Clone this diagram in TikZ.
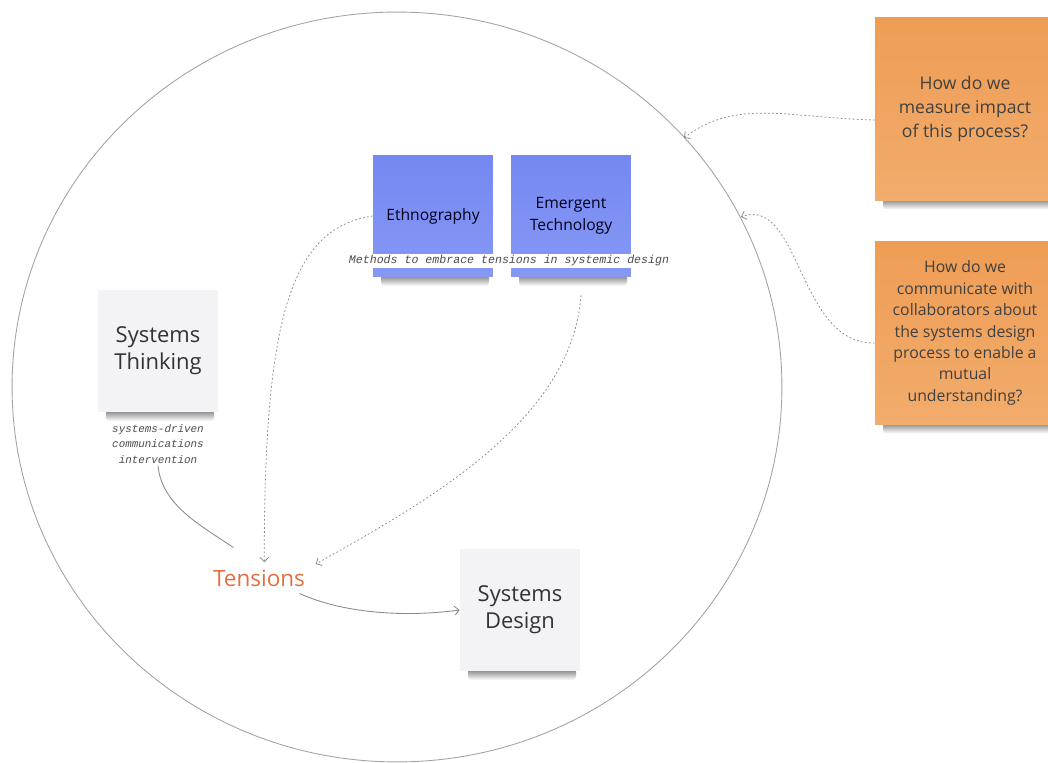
\documentclass[tikz,border=0pt]{standalone}
\usepackage{fontspec}
\setmainfont{Open Sans}
\newfontfamily\codefont{Liberation Mono}
\usetikzlibrary{arrows.meta}
\definecolor{notegray}{HTML}{F3F3F6}
\definecolor{blueTop}{HTML}{7588F2}
\definecolor{blueBot}{HTML}{8698F4}
\definecolor{orangeTop}{HTML}{EF9D55}
\definecolor{orangeBot}{HTML}{F2AC6C}
\definecolor{tensred}{HTML}{E0703F}
\definecolor{linegray}{HTML}{8C8C8C}
\tikzset{
	note/.style={minimum width=2.4cm, minimum height=2.44cm, align=center, inner sep=2pt, text=black!80},
	graynote/.style={note, fill=notegray, font=\fontsize{12.5}{15.5}\selectfont},
	bluenote/.style={note, top color=blueTop, bottom color=blueBot, text=black!75!blue!40!black, font=\fontsize{8.9}{12.3}\selectfont},
	orangenote/.style={note, minimum width=3.6cm, minimum height=3.66cm, top color=orangeTop, bottom color=orangeBot, text=black!75},
	code/.style={font=\codefont\itshape, text=black!70, align=center, inner sep=1pt},
	shade/.style={top color=black!55, bottom color=white, draw=none, rounded corners=2pt},
	link/.style={draw=linegray, line width=0.5pt, -{Straight Barb[length=2.5pt,width=5pt]}},
	dotlink/.style={link, line width=0.45pt, dash pattern=on 1pt off 1.3pt},
}

\begin{document}
\begin{tikzpicture}[x=0.02cm, y=-0.02cm]
	\useasboundingbox (0,0) rectangle (1048,763);
	\draw [linegray!80, line width=0.5pt] (397,387) ellipse [x radius=7.7cm, y radius=7.5cm];
	%
	% soft shadows go first, the notes sit on top of them
	\foreach \cx/\cy/\w/\h in {158/351/120/122, 520/610/120/122, 433/216/120/122, 571/216/120/122, 965/109/180/183, 965/333/180/183}
		\shade [shade] (\cx-\w/2+8, \cy+\h/2-3) rectangle (\cx+\w/2-4, \cy+\h/2+9);
	%
	\node [graynote] (st) at (158,351) {Systems\\Thinking};
	\node [graynote] (sd) at (520,610) {Systems\\Design};
	\node [bluenote] (eth) at (433,216) {Ethnography};
	\node [bluenote] (emt) at (571,216) {Emergent\\Technology};
	\node [orangenote, font=\fontsize{10}{13.9}\selectfont] (q1) at (965,109) {How do we\\measure impact\\of this process?};
	\node [orangenote, font=\fontsize{9}{12.2}\selectfont] (q2) at (965,333) {How do we\\communicate with\\collaborators about\\the systems design\\process to enable a\\mutual\\understanding?};
	%
	\node [code, fill=white, font=\codefont\itshape\fontsize{6.6}{8}\selectfont] (methods) at (509,261) {Methods to embrace tensions in systemic design};
	\node [code, font=\codefont\itshape\fontsize{6.2}{9}\selectfont] (cap) at (158,444) {systems-driven\\communications\\intervention};
	\node [text=tensred, font=\fontsize{12.8}{15}\selectfont, inner sep=1pt] (tens) at (259,578) {Tensions};
	%
	\coordinate (e1) at (684,138);
	\coordinate (e2) at (741,217);
	%
	\draw [dotlink] (eth.west) .. controls (290,228) and (264,320) .. ([xshift=3pt,yshift=3pt]tens.north);
	\draw [dotlink] ([xshift=0.2cm,yshift=-0.36cm]emt.south) .. controls (572,420) and (430,500) .. ([xshift=5pt,yshift=2pt]tens.north east);
	\draw [draw=linegray, line width=0.5pt] (cap.south) .. controls (162,505) and (200,525) .. ([xshift=0.45cm,yshift=0.4cm]tens.north west);
	\draw [link] ([xshift=-0.15cm,yshift=-0.1cm]tens.south east) .. controls (340,612) and (400,618) .. (sd.west);
	\draw [dotlink] ([yshift=-0.22cm]q1.west) .. controls (790,118) and (735,98) .. (e1);
	\draw [dotlink] ([yshift=-0.2cm]q2.west) .. controls (798,345) and (800,195) .. (e2);
\end{tikzpicture}
\end{document}
